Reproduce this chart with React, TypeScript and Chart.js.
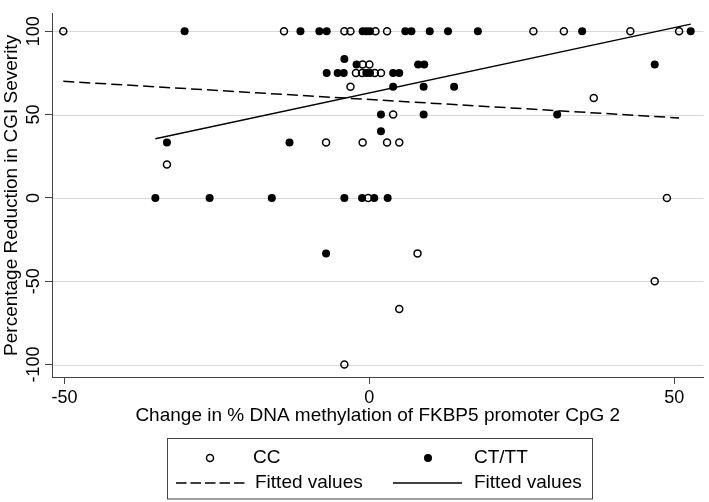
import React, { useEffect, useRef } from "react";
import { Chart, registerables } from "chart.js";

Chart.register(...registerables);

// CC genotype (hollow circles)
const ccX = [-50.2, -14.0, -4.1, -3.1, 1.0, 2.9, 26.9, 31.9, 42.8, 50.8,
  -1.1, 0.0,
  -2.2, -1.2, 0.9, 1.9,
  -3.1,
  36.8,
  3.9,
  -7.1, -1.1, 2.9, 4.9,
  -33.2,
  -0.2, 48.8,
  7.9,
  46.8,
  4.9,
  -4.1];
const ccY = [100, 100, 100, 100, 100, 100, 100, 100, 100, 100,
  80, 80,
  75, 75, 75, 75,
  66.7,
  60,
  50,
  33.3, 33.3, 33.3, 33.3,
  20,
  0, 0,
  -33.3,
  -50,
  -66.7,
  -100];

// CT/TT genotype (filled circles)
const ctX = [-30.3, -11.3, -8.2, -7.0, -1.1, -0.5, 0.1, 5.9, 6.9, 9.9, 12.9, 17.8, 34.9, 52.7,
  -4.1,
  -2.1, 8.0, 9.0, 46.8,
  -7.0, -5.2, -4.2, -0.5, 0.1, 3.9, 4.9,
  3.9, 8.9, 13.9,
  1.9, 8.9, 30.8,
  1.9,
  -33.2, -13.1,
  -35.1, -26.2, -16.0, -4.1, -1.2, 0.8, 3.0,
  -7.1];
const ctY = [100, 100, 100, 100, 100, 100, 100, 100, 100, 100, 100, 100, 100, 100,
  83.3,
  80, 80, 80, 80,
  75, 75, 75, 75, 75, 75, 75,
  66.7, 66.7, 66.7,
  50, 50, 50,
  40,
  33.3, 33.3,
  0, 0, 0, 0, 0, 0, 0,
  -33.3];

// Fitted values (end points of the fitted lines)
const fitCcX = [-50.2, 50.8];
const fitCcY = [70, 48];
const fitCtX = [-35.1, 52.7];
const fitCtY = [35.5, 104.3];

const xTicks = [-50, 0, 50];
const yTicks = [-100, -50, 0, 50, 100];
const legendLabels = ["CC", "CT/TT", "Fitted values", "Fitted values"];
const xTitle = "Change in % DNA methylation of FKBP5 promoter CpG 2";
const yTitle = "Percentage Reduction in CGI Severity";

const FONT = "'Liberation Sans', Arial, sans-serif";
const AXIS = "#444444";
const GRID = "#d9d9d9";
const DASH = [11, 5];

const pts = (xs: number[], ys: number[]) => xs.map((x, i) => ({ x, y: ys[i] }));

const overlay = {
  id: "stataOverlay",
  beforeDatasetsDraw(chart: any) {
    // horizontal grid lines at the y ticks
    const ctx = chart.ctx;
    const ys = chart.scales.y;
    const { left, right } = chart.chartArea;
    ctx.save();
    ctx.strokeStyle = GRID;
    ctx.lineWidth = 1;
    ys.ticks.forEach((t: any) => {
      const py = Math.round(ys.getPixelForValue(t.value)) + 0.5;
      ctx.beginPath();
      ctx.moveTo(left + 1, py);
      ctx.lineTo(right, py);
      ctx.stroke();
    });
    ctx.restore();
  },
  afterDraw(chart: any) {
    const ctx = chart.ctx;
    const ys = chart.scales.y;
    ctx.save();
    // y tick labels, rotated
    ctx.fillStyle = "#000";
    ctx.font = `18px ${FONT}`;
    ctx.textAlign = "center";
    ctx.textBaseline = "middle";
    ys.ticks.forEach((t: any) => {
      const py = ys.getPixelForValue(t.value);
      ctx.save();
      ctx.translate(34, py);
      ctx.rotate(-Math.PI / 2);
      ctx.fillText(String(t.value), 0, 0);
      ctx.restore();
    });

    // legend
    const bx = 167.5, by = 438.5, bw = 425, bh = 60.5;
    ctx.strokeStyle = AXIS;
    ctx.lineWidth = 1;
    ctx.setLineDash([]);
    ctx.strokeRect(bx, by, bw, bh);
    const r1 = 458, r2 = 483;
    ctx.font = `19px ${FONT}`;
    ctx.textAlign = "left";
    ctx.fillStyle = "#000";
    ctx.fillText(legendLabels[0], 253, r1);
    ctx.fillText(legendLabels[1], 474, r1);
    ctx.fillText(legendLabels[2], 255, r2);
    ctx.fillText(legendLabels[3], 474, r2);
    // hollow marker
    ctx.beginPath();
    ctx.arc(210, r1, 3.5, 0, Math.PI * 2);
    ctx.lineWidth = 1.5;
    ctx.strokeStyle = "#000";
    ctx.stroke();
    // filled marker
    ctx.beginPath();
    ctx.arc(428, r1, 4, 0, Math.PI * 2);
    ctx.fill();
    // dashed line
    ctx.lineWidth = 1.5;
    ctx.setLineDash([10.5, 4]);
    ctx.beginPath();
    ctx.moveTo(176, r2);
    ctx.lineTo(245, r2);
    ctx.stroke();
    ctx.setLineDash([]);
    ctx.beginPath();
    ctx.moveTo(393, r2);
    ctx.lineTo(462, r2);
    ctx.stroke();
    ctx.restore();
  },
};

export default function App() {
  const ref = useRef<HTMLCanvasElement | null>(null);

  useEffect(() => {
    if (!ref.current) return;
    const chart = new Chart(ref.current, {
      type: "scatter",
      data: {
        datasets: [
          {
            type: "line",
            label: legendLabels[3],
            data: pts(fitCtX, fitCtY),
            borderColor: "#000",
            borderWidth: 1.5,
            pointRadius: 0,
            fill: false,
            showLine: true,
          } as any,
          {
            type: "line",
            label: legendLabels[2],
            data: pts(fitCcX, fitCcY),
            borderColor: "#000",
            borderWidth: 1.5,
            borderDash: DASH,
            pointRadius: 0,
            fill: false,
            showLine: true,
          } as any,
          {
            label: legendLabels[1],
            data: pts(ctX, ctY),
            pointRadius: 4,
            pointBackgroundColor: "#000",
            pointBorderWidth: 0,
            pointBorderColor: "#000",
          },
          {
            label: legendLabels[0],
            data: pts(ccX, ccY),
            pointRadius: 3.5,
            pointBackgroundColor: "rgba(0,0,0,0)",
            pointBorderWidth: 1.5,
            pointBorderColor: "#000",
          },
        ],
      },
      options: {
        animation: false,
        responsive: false,
        devicePixelRatio: 1,
        layout: { padding: { top: 2, right: 2, left: 0, bottom: 0 } },
        plugins: { legend: { display: false }, tooltip: { enabled: false } },
        scales: {
          x: {
            type: "linear",
            min: -52.05,
            max: 54.8,
            afterBuildTicks: (s: any) => { s.ticks = xTicks.map((v) => ({ value: v })); },
            afterFit: (s: any) => { s.height = 125; },
            ticks: {
              autoSkip: false,
              maxRotation: 0,
              minRotation: 0,
              padding: 3,
              color: "#000",
              font: { family: FONT, size: 18 },
            },
            grid: { drawOnChartArea: false, drawTicks: true, tickLength: 7, tickColor: AXIS, tickWidth: 1 },
            border: { display: true, color: AXIS, width: 1 },
            title: {
              display: true,
              text: xTitle,
              color: "#000",
              font: { family: FONT, size: 19 },
              padding: { top: 0, bottom: 74.6 },
            },
          },
          y: {
            type: "linear",
            min: -107.5,
            max: 110.5,
            afterBuildTicks: (s: any) => { s.ticks = yTicks.map((v) => ({ value: v })); },
            afterFit: (s: any) => { s.width = 52; },
            ticks: {
              autoSkip: false,
              color: "rgba(0,0,0,0)",
              font: { family: FONT, size: 18 },
            },
            grid: { drawOnChartArea: false, drawTicks: true, tickLength: 7, tickColor: AXIS, tickWidth: 1 },
            border: { display: true, color: AXIS, width: 1 },
            title: {
              display: true,
              text: yTitle,
              color: "#000",
              font: { family: FONT, size: 19 },
              padding: { top: 0, bottom: 0 },
            },
          },
        },
      },
      plugins: [overlay],
    });
    return () => chart.destroy();
  }, []);

  return (
    <div style={{ position: "absolute", left: 0, top: 0, width: 709, height: 502, background: "#fff" }}>
      <canvas ref={ref} width={709} height={502} style={{ width: 709, height: 502, display: "block" }} />
    </div>
  );
}
